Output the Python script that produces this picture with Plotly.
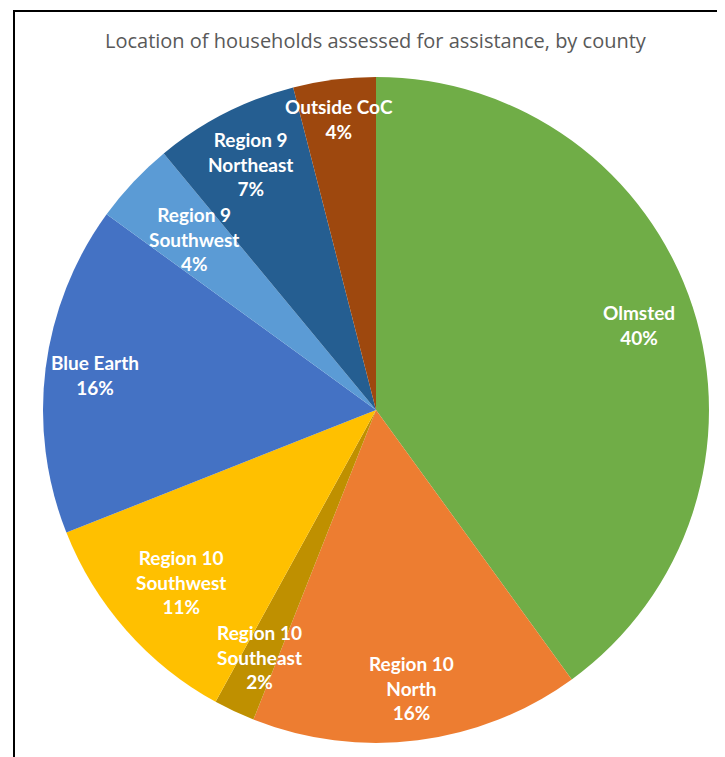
import numpy as np
import plotly.graph_objects as go

## datos del grafico
labels = ["Olmsted", "Region 10<br>North", "Region 10<br>Southeast", "Region 10<br>Southwest",
          "Blue Earth", "Region 9<br>Southwest", "Region 9<br>Northeast", "Outside CoC"]
values = [40, 16, 2, 11, 16, 4, 7, 4]
colors = ["#70AD47", "#ED7D31", "#BF9000", "#FFC000", "#4472C4", "#5B9BD5", "#255E91", "#9E480E"]
title = "Location of households assessed for assistance, by county"

W, H = 725, 757
OFF = 8  # margen del body en la pagina

## posicion del pie en pixeles
cx, cy, R = 376, 410, 333
## distancia de cada etiqueta al centro (fraccion del radio), como el "best fit" de Excel
label_r = [0.83, 0.84, 0.82, 0.78, 0.85, 0.75, 0.83, 0.88]

def px_x(x):
  return (x - OFF) / W

def px_y(y):
  return 1 - (y - OFF) / H

fig = go.Figure(go.Pie(
  labels=labels,
  values=values,
  sort=False,
  direction="clockwise",
  rotation=0,
  marker=dict(colors=colors, line=dict(width=0)),
  textinfo="none",
  hoverinfo="label+percent",
  domain=dict(x=[px_x(cx - R), px_x(cx + R)], y=[px_y(cy + R), px_y(cy - R)]),
  showlegend=False,
))

## etiquetas estilo Excel, cerca del borde de cada rebanada
total = sum(values)
acum = np.cumsum([0] + values[:-1])
for lab, v, a, f in zip(labels, values, acum, label_r):
  theta = 2 * np.pi * (a + v / 2) / total
  r = f * R
  x = cx + r * np.sin(theta)
  y = cy - r * np.cos(theta)
  fig.add_annotation(text="<b>%s<br>%d%%</b>" % (lab, round(100 * v / total)),
                     x=px_x(x), y=px_y(y), xref="paper", yref="paper",
                     xanchor="center", yanchor="middle",
                     showarrow=False, align="center",
                     font=dict(family="Lato", size=19, color="white"))

fig.update_layout(width=W, height=H,
                  margin=dict(l=0, r=0, t=0, b=0),
                  paper_bgcolor="white",
                  plot_bgcolor="white")

fig.add_annotation(text=title, x=px_x(376), y=px_y(41), xref="paper", yref="paper",
                   xanchor="center", yanchor="middle",
                   showarrow=False, font=dict(family="Open Sans", size=20, color="#595959"))

## marco
fig.add_shape(type="rect", xref="paper", yref="paper",
              x0=px_x(14), x1=1.05, y0=-0.05, y1=px_y(11),
              line=dict(color="black", width=2))

fig.write_html("out.html")
